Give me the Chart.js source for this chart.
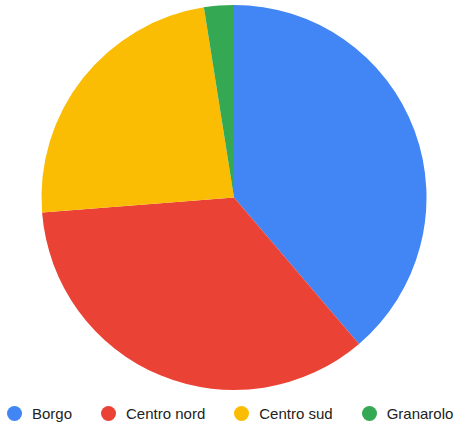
<!DOCTYPE html>
<html>
<head>
<meta charset="utf-8">
<script src="https://cdn.jsdelivr.net/npm/chart.js@4/dist/chart.umd.min.js"></script>
<style>
  html, body { margin: 0; padding: 0; background: #fff; }
  #wrap { position: relative; width: 454px; height: 426px; }
  #box { width: 454px; height: 392px; }
  #legend {
    display: flex;
    align-items: center;
    gap: 29px;
    position: absolute;
    left: 7px;
    top: 404px;
    height: 18px;
    font: 15px "Liberation Sans", Arial, sans-serif;
    color: #222;
    white-space: nowrap;
  }
  .item { display: flex; align-items: center; }
  .dot { width: 15px; height: 15px; border-radius: 50%; margin-right: 10px; }
</style>
</head>
<body>
<div id="wrap">
  <div id="box"><canvas id="chart"></canvas></div>
  <div id="legend"></div>
</div>
<script>
const labels = ["Borgo", "Centro nord", "Centro sud", "Granarolo"];
const values = [31, 28, 19, 2];
const colors = ["#4285F4", "#EA4335", "#FBBC04", "#34A853"];

const chart = new Chart(document.getElementById("chart"), {
  type: "pie",
  data: {
    labels: labels,
    datasets: [{
      data: values,
      backgroundColor: colors,
      borderWidth: 0
    }]
  },
  options: {
    responsive: true,
    maintainAspectRatio: false,
    animation: false,
    layout: { padding: { top: 5, left: 14, bottom: 2 } },
    plugins: {
      legend: { display: false },
      tooltip: { enabled: false }
    }
  }
});

// legend drawn as html, same labels and colours as the chart
const legend = document.getElementById("legend");
chart.data.labels.forEach((label, i) => {
  const item = document.createElement("div");
  item.className = "item";
  const dot = document.createElement("span");
  dot.className = "dot";
  dot.style.background = chart.data.datasets[0].backgroundColor[i];
  const text = document.createElement("span");
  text.textContent = label;
  item.appendChild(dot);
  item.appendChild(text);
  legend.appendChild(item);
});
</script>
</body>
</html>
